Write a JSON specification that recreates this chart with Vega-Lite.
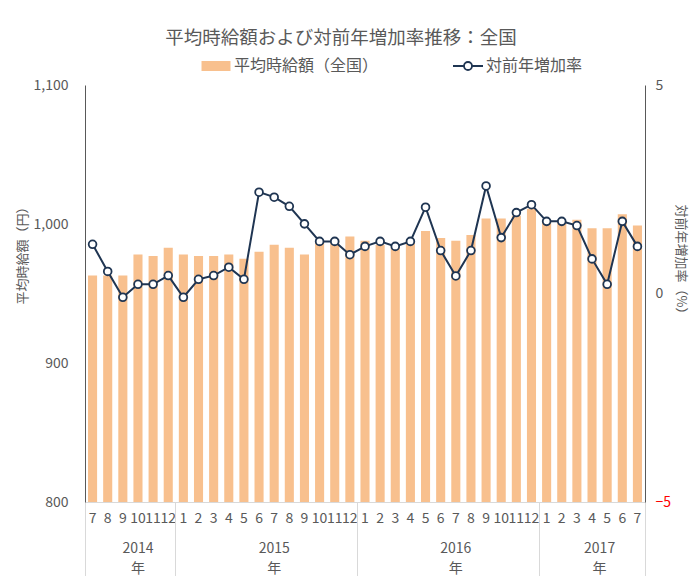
{
  "$schema": "https://vega.github.io/schema/vega-lite/v6.json",
  "width": 560,
  "height": 417,
  "autosize": {"type": "none"},
  "padding": {"left": 85, "top": 85, "right": 46, "bottom": 74},
  "background": "white",
  "title": {
    "text": "平均時給額および対前年増加率推移：全国",
    "font": "Noto Sans CJK JP",
    "fontSize": 18.5,
    "fontWeight": "normal",
    "color": "#595959",
    "anchor": "middle",
    "frame": "group",
    "dx": -24,
    "offset": 11
  },
  "config": {
    "view": {"stroke": null},
    "axis": {
      "labelFont": "Noto Sans CJK JP",
      "titleFont": "Noto Sans CJK JP",
      "labelColor": "#595959",
      "titleColor": "#595959",
      "titleFontWeight": "normal",
      "titleFontSize": 13,
      "labelFontSize": 14,
      "grid": false
    },
    "legend": {"labelFont": "Noto Sans CJK JP"}
  },
  "data": {
    "values": [
      {"ym": "2014-07", "wage": 963, "rate": 1.18},
      {"ym": "2014-08", "wage": 963, "rate": 0.53},
      {"ym": "2014-09", "wage": 963, "rate": -0.09},
      {"ym": "2014-10", "wage": 978, "rate": 0.22},
      {"ym": "2014-11", "wage": 977, "rate": 0.22},
      {"ym": "2014-12", "wage": 983, "rate": 0.43},
      {"ym": "2015-01", "wage": 978, "rate": -0.09},
      {"ym": "2015-02", "wage": 977, "rate": 0.34},
      {"ym": "2015-03", "wage": 977, "rate": 0.43},
      {"ym": "2015-04", "wage": 978, "rate": 0.63},
      {"ym": "2015-05", "wage": 975, "rate": 0.34},
      {"ym": "2015-06", "wage": 980, "rate": 2.43},
      {"ym": "2015-07", "wage": 985, "rate": 2.31},
      {"ym": "2015-08", "wage": 983, "rate": 2.09},
      {"ym": "2015-09", "wage": 978, "rate": 1.67},
      {"ym": "2015-10", "wage": 988, "rate": 1.25},
      {"ym": "2015-11", "wage": 989, "rate": 1.25},
      {"ym": "2015-12", "wage": 991, "rate": 0.93},
      {"ym": "2016-01", "wage": 988, "rate": 1.13},
      {"ym": "2016-02", "wage": 985, "rate": 1.25},
      {"ym": "2016-03", "wage": 983, "rate": 1.13},
      {"ym": "2016-04", "wage": 988, "rate": 1.25},
      {"ym": "2016-05", "wage": 995, "rate": 2.07},
      {"ym": "2016-06", "wage": 990, "rate": 1.03},
      {"ym": "2016-07", "wage": 988, "rate": 0.42},
      {"ym": "2016-08", "wage": 992, "rate": 1.03},
      {"ym": "2016-09", "wage": 1004, "rate": 2.58},
      {"ym": "2016-10", "wage": 1004, "rate": 1.34},
      {"ym": "2016-11", "wage": 1006, "rate": 1.94},
      {"ym": "2016-12", "wage": 1011, "rate": 2.13},
      {"ym": "2017-01", "wage": 1003, "rate": 1.73},
      {"ym": "2017-02", "wage": 1002, "rate": 1.73},
      {"ym": "2017-03", "wage": 1003, "rate": 1.63},
      {"ym": "2017-04", "wage": 997, "rate": 0.83},
      {"ym": "2017-05", "wage": 997, "rate": 0.22},
      {"ym": "2017-06", "wage": 1007, "rate": 1.73},
      {"ym": "2017-07", "wage": 999, "rate": 1.13}
    ]
  },
  "layer": [
    {
      "mark": {"type": "bar", "width": {"band": 0.6}, "clip": true},
      "encoding": {
        "x": {
          "field": "ym",
          "type": "ordinal",
          "scale": {"paddingInner": 0, "paddingOuter": 0},
          "axis": {
            "orient": "bottom",
            "title": null,
            "labelExpr": "toNumber(slice(datum.value, 5))",
            "labelAngle": 0,
            "labelOverlap": false,
            "ticks": false,
            "domainColor": "#D9D9D9",
            "labelPadding": 9
          }
        },
        "y": {
          "field": "wage",
          "type": "quantitative",
          "scale": {"domain": [800, 1100], "zero": false, "nice": false},
          "axis": {
            "values": [800, 900, 1000, 1100],
            "format": ",.0f",
            "ticks": false,
            "domainColor": "#595959",
            "labelPadding": 17,
            "title": "平均時給額（円）",
            "titleX": -63,
            "titleY": 167,
            "titleBaseline": "middle",
            "titleAlign": "center"
          }
        },
        "color": {
          "datum": "平均時給額（全国）",
          "scale": {
            "domain": ["平均時給額（全国）", "対前年増加率"],
            "range": ["#F8C08E", "#ffffff"]
          },
          "legend": {
            "orient": "none",
            "legendX": 123,
            "legendY": -27,
            "direction": "horizontal",
            "title": null,
            "padding": 0,
            "symbolSize": 400,
            "labelFontSize": 16,
            "labelColor": "#595959",
            "labelOffset": 10,
            "columnPadding": 70,
            "encode": {
              "symbols": {
                "update": {
                  "shape": {"signal": "datum.value === '平均時給額（全国）' ? 'M-1.45,-0.5H1.45V0.5H-1.45Z' : 'M-1.5,0H-0.4M0.4,0H1.5M0.4,0A0.4,0.4 0 1,1 -0.4,0A0.4,0.4 0 1,1 0.4,0Z'"},
                  "stroke": {"signal": "datum.value === '平均時給額（全国）' ? '#F8C08E' : '#1F3552'"},
                  "strokeWidth": {"signal": "datum.value === '平均時給額（全国）' ? 0 : 1.8"},
                  "opacity": {"value": 1}
                }
              }
            }
          }
        }
      }
    },
    {
      "mark": {"type": "line", "strokeWidth": 2, "stroke": "#1F3552"},
      "encoding": {
        "x": {
          "field": "ym",
          "type": "ordinal",
          "axis": {
            "orient": "bottom",
            "title": null,
            "values": ["2014-07", "2015-01", "2016-01", "2017-01"],
            "bandPosition": 0,
            "tickSize": 76,
            "tickColor": "#D9D9D9",
            "domain": false,
            "labelAngle": 0,
            "labelExpr": "[slice(datum.value, 0, 4), '年']",
            "labelPadding": -37,
            "labelLineHeight": 20,
            "labelFontSize": 14,
            "labelOverlap": false,
            "labelOffset": {
              "condition": [
                {"test": "datum.value === '2014-07'", "value": 45.4},
                {"test": "datum.value === '2017-01'", "value": 53}
              ],
              "value": 90.8
            }
          }
        },
        "y": {
          "field": "rate",
          "type": "quantitative",
          "scale": {"domain": [-5, 5], "nice": false},
          "axis": {
            "orient": "right",
            "values": [-5, 0, 5],
            "ticks": false,
            "domainColor": "#595959",
            "labelPadding": 10,
            "labelColor": {"condition": {"test": "datum.value < 0", "value": "#FF0000"}, "value": "#595959"},
            "title": "対前年増加率（%）",
            "titleX": 35,
            "titleY": 177,
            "titleBaseline": "middle",
            "titleAlign": "center"
          }
        }
      }
    },
    {
      "mark": {"type": "point", "filled": true, "fill": "#ffffff", "stroke": "#1F3552", "strokeWidth": 1.8, "size": 60, "opacity": 1},
      "encoding": {
        "x": {
          "field": "ym",
          "type": "ordinal",
          "axis": {
            "orient": "bottom",
            "title": null,
            "values": ["2017-07"],
            "bandPosition": 1,
            "tickSize": 76,
            "tickColor": "#D9D9D9",
            "domain": false,
            "labels": false
          }
        },
        "y": {
          "field": "rate",
          "type": "quantitative",
          "scale": {"domain": [-5, 5], "nice": false},
          "axis": null
        }
      }
    }
  ],
  "resolve": {
    "scale": {"y": "independent"},
    "axis": {"x": "independent", "y": "independent"}
  }
}
